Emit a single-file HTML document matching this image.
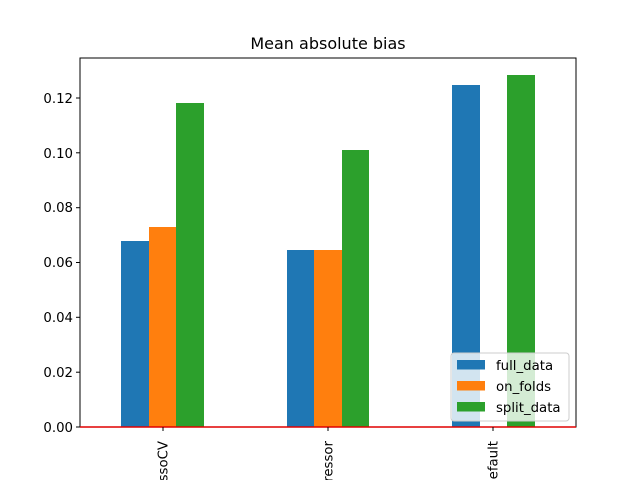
<!DOCTYPE html>
<html><head><style>html,body{margin:0;background:#fff;overflow:hidden;width:640px;height:480px}svg{display:block}</style></head><body>
<svg width="640" height="480" xmlns="http://www.w3.org/2000/svg" font-family="DejaVu Sans, sans-serif" style="overflow:hidden">
<rect width="640" height="480" fill="#fff"/>
<g>
<rect x="121" y="241" width="28" height="186" fill="#1f77b4"/>
<rect x="149" y="227" width="27" height="200" fill="#ff7f0e"/>
<rect x="176" y="103" width="28" height="324" fill="#2ca02c"/>
<rect x="287" y="250" width="27" height="177" fill="#1f77b4"/>
<rect x="314" y="250" width="28" height="177" fill="#ff7f0e"/>
<rect x="342" y="150" width="27" height="277" fill="#2ca02c"/>
<rect x="452" y="85" width="28" height="342" fill="#1f77b4"/>
<rect x="507" y="75" width="28" height="352" fill="#2ca02c"/>
</g>
<rect x="80" y="58" width="496" height="369" fill="none" stroke="#000" stroke-width="1"/>
<line x1="80" y1="427" x2="576" y2="427" stroke="#e00000" stroke-width="1.5"/>
<g stroke="#000">
<line x1="76" y1="427" x2="80" y2="427"/><line x1="76" y1="372.2" x2="80" y2="372.2"/>
<line x1="76" y1="317.3" x2="80" y2="317.3"/><line x1="76" y1="262.5" x2="80" y2="262.5"/>
<line x1="76" y1="207.7" x2="80" y2="207.7"/><line x1="76" y1="152.8" x2="80" y2="152.8"/>
<line x1="76" y1="98" x2="80" y2="98"/>
<line x1="163" y1="427" x2="163" y2="431"/><line x1="328" y1="427" x2="328" y2="431"/><line x1="493" y1="427" x2="493" y2="431"/>
</g>
<g font-size="13.3" text-anchor="end" fill="#000">
<text x="73" y="432">0.00</text><text x="73" y="377">0.02</text><text x="73" y="322">0.04</text>
<text x="73" y="267">0.06</text><text x="73" y="212">0.08</text><text x="73" y="158">0.10</text><text x="73" y="103">0.12</text>
</g>
<g font-size="13.3" text-anchor="end" fill="#000">
<text transform="translate(167.5,441) rotate(-90)">LassoCV</text>
<text transform="translate(332.5,441) rotate(-90)">DecisionTreeRegressor</text>
<text transform="translate(497.5,441) rotate(-90)">RandomForestDefault</text>
</g>
<text x="328" y="49" font-size="16" text-anchor="middle">Mean absolute bias</text>
<rect x="451" y="353" width="118" height="68" rx="3" fill="#fff" fill-opacity="0.8" stroke="#ccc"/>
<rect x="457" y="360" width="28" height="9.5" fill="#1f77b4"/>
<rect x="457" y="381" width="28" height="9.5" fill="#ff7f0e"/>
<rect x="457" y="402" width="28" height="9.5" fill="#2ca02c"/>
<g font-size="13.3" fill="#000">
<text x="496" y="370">full_data</text><text x="496" y="391">on_folds</text><text x="496" y="412">split_data</text>
</g>
</svg>
</body></html>
